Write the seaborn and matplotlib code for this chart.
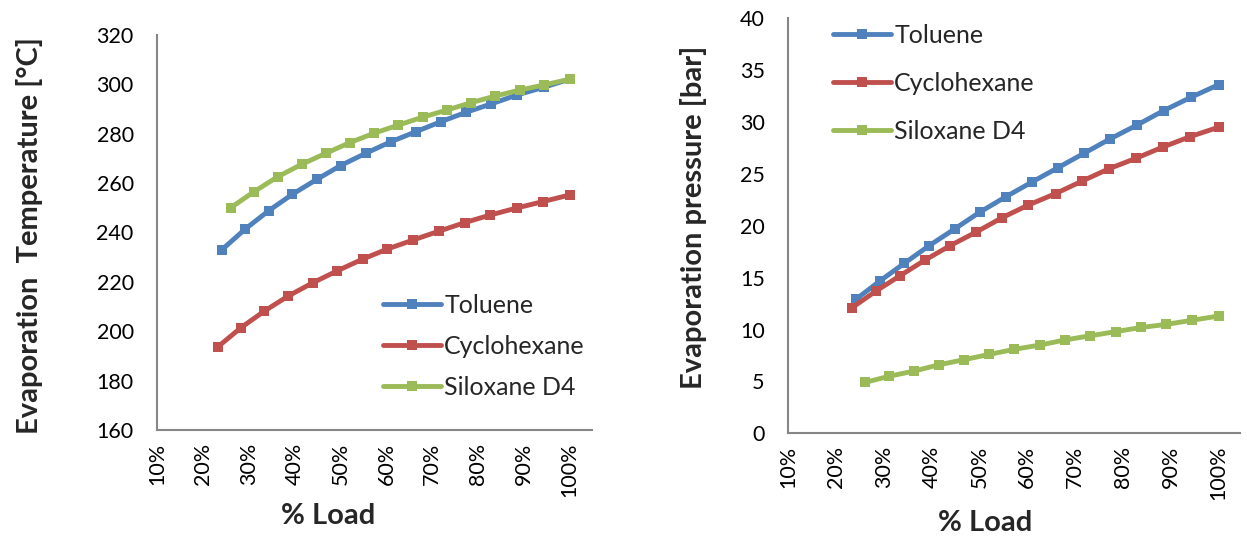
import numpy as np
import pandas as pd
import matplotlib
matplotlib.use("Agg")
import matplotlib.pyplot as plt
import seaborn as sns
from matplotlib.ticker import FixedLocator, FuncFormatter

# ---------------- data ----------------
series_names = ["Toluene", "Cyclohexane", "Siloxane D4"]

load_toluene = [24.1, 29.2, 34.3, 39.5, 44.8, 50.0, 55.5, 60.9, 66.4, 71.9, 77.4, 82.9, 88.5, 94.3, 100.0]
load_cyclohexane = [23.3, 28.3, 33.4, 38.6, 43.9, 49.3, 54.8, 60.2, 65.9, 71.4, 77.1, 82.7, 88.4, 94.1, 100.0]
load_siloxane = [26.0, 31.1, 36.3, 41.5, 46.8, 52.0, 57.3, 62.6, 67.9, 73.2, 78.5, 83.8, 89.1, 94.5, 100.0]

temp_toluene = [233.0, 241.4, 248.8, 255.5, 261.5, 267.1, 272.1, 276.7, 280.8, 284.9, 288.7, 292.1, 295.7, 298.8, 302.1]
temp_cyclohexane = [193.8, 201.5, 208.2, 214.3, 219.6, 224.5, 229.2, 233.3, 237.0, 240.5, 244.0, 247.1, 249.9, 252.5, 255.2]
temp_siloxane = [250.0, 256.5, 262.6, 267.6, 272.1, 276.4, 280.2, 283.5, 286.7, 289.6, 292.6, 295.3, 297.7, 299.8, 302.1]

pres_toluene = [12.9, 14.7, 16.4, 18.1, 19.7, 21.3, 22.8, 24.2, 25.6, 27.0, 28.4, 29.7, 31.1, 32.4, 33.6]
pres_cyclohexane = [12.1, 13.7, 15.2, 16.7, 18.1, 19.4, 20.8, 22.0, 23.1, 24.3, 25.5, 26.5, 27.6, 28.6, 29.5]
pres_siloxane = [4.9, 5.5, 6.0, 6.6, 7.1, 7.6, 8.1, 8.5, 9.0, 9.4, 9.8, 10.2, 10.5, 10.9, 11.3]

x_ticks = [10, 20, 30, 40, 50, 60, 70, 80, 90, 100]
temp_ticks = [160, 180, 200, 220, 240, 260, 280, 300, 320]
pres_ticks = [0, 5, 10, 15, 20, 25, 30, 35, 40]

colors = ["#4F81BD", "#C0504D", "#9BBB59"]

loads = [load_toluene, load_cyclohexane, load_siloxane]
temps = [temp_toluene, temp_cyclohexane, temp_siloxane]
press = [pres_toluene, pres_cyclohexane, pres_siloxane]

rows = []
for name, lx, t, p in zip(series_names, loads, temps, press):
    for a, b, c in zip(lx, t, p):
        rows.append({"Fluid": name, "Load": a, "Temp": b, "Pres": c})
df = pd.DataFrame(rows)

# ---------------- style ----------------
sns.set_style("white")
plt.rcParams["font.family"] = ["Lato", "DejaVu Sans"]
gray = "#868686"

fig = plt.figure(figsize=(12.47, 5.40), dpi=100)
ax1 = fig.add_axes([0.1261, 0.2037, 0.3484, 0.7315])
ax2 = fig.add_axes([0.6322, 0.1976, 0.3622, 0.7685])

palette = dict(zip(series_names, colors))

for ax, ycol, yticks, ylab in [
    (ax1, "Temp", temp_ticks, "Evaporation  Temperature [°C]"),
    (ax2, "Pres", pres_ticks, "Evaporation pressure [bar]"),
]:
    sns.lineplot(data=df, x="Load", y=ycol, hue="Fluid", palette=palette,
                 hue_order=series_names, marker="s", markersize=7.5,
                 markeredgewidth=0, linewidth=3.5, ax=ax, legend=True,
                 sort=False)
    ax.set_ylim(yticks[0], yticks[-1])
    ax.xaxis.set_major_locator(FixedLocator(x_ticks))
    ax.xaxis.set_major_formatter(FuncFormatter(lambda v, p: f"{int(round(v))}%"))
    ax.yaxis.set_major_locator(FixedLocator(yticks))
    for s in ["top", "right"]:
        ax.spines[s].set_visible(False)
    for s in ["left", "bottom"]:
        ax.spines[s].set_color(gray)
        ax.spines[s].set_linewidth(1.5)
    ax.tick_params(axis="both", which="major", color=gray, width=1.5, length=6,
                   direction="out", labelsize=15.5, labelcolor="black")
    ax.tick_params(axis="x", labelrotation=90, pad=3)
    ax.tick_params(axis="y", pad=11)
    ax.set_xlabel("% Load", fontsize=21, fontweight="bold")
    ax.set_ylabel(ylab, fontsize=21, fontweight="bold")

ax1.set_xlim(10, 104.8)
ax2.set_xlim(10, 104.5)

ax1.xaxis.set_label_coords(0.393, -0.185)
ax2.xaxis.set_label_coords(0.435, -0.185)
ax1.yaxis.set_label_coords(-0.262, 0.491)
ax2.yaxis.set_label_coords(-0.180, 0.521)

# legends
for ax, anchor, lsp in [(ax1, (383 / 1247, 1 - 294 / 540), 0.72),
                        (ax2, (833 / 1247, 1 - 24 / 540), 1.0)]:
    h, l = ax.get_legend_handles_labels()
    ax.legend(h, l, loc="upper left", bbox_to_anchor=anchor,
              bbox_transform=fig.transFigure, frameon=False, fontsize=18,
              handlelength=2.3, handletextpad=0.15, labelspacing=lsp,
              borderpad=0, borderaxespad=0, numpoints=1)

fig.savefig("out.png", dpi=100)
